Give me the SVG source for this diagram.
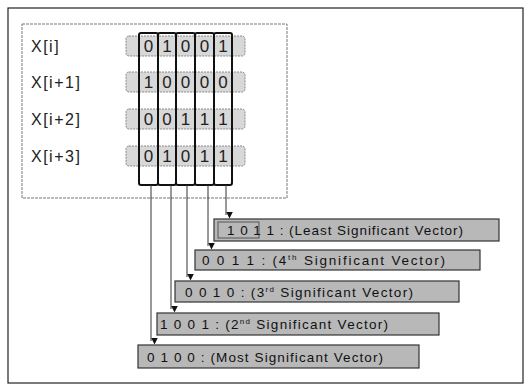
<svg xmlns="http://www.w3.org/2000/svg" width="528" height="384" viewBox="0 0 528 384">
<defs>
<style>
.lbl{font-family:"Liberation Sans",Arial,sans-serif;font-size:16px;fill:#222;letter-spacing:1.5px}
.dig{font-family:"Liberation Sans",Arial,sans-serif;font-size:17px;fill:#222;text-anchor:middle}
.row{fill:#d8d8d8;stroke:#8a8a8a;stroke-width:1;stroke-dasharray:2 1}
.col{fill:none;stroke:#111;stroke-width:2}
.vec{fill:#b8b8b8;stroke:#333;stroke-width:1.2}
.vt{font-family:"Liberation Sans",Arial,sans-serif;font-size:13.5px;fill:#111}
.sup{font-size:8px}
.conn line{stroke:#333;stroke-width:1;marker-end:url(#ah)}
</style>
<marker id="ah" viewBox="0 0 8 8" refX="4" refY="8" markerWidth="7" markerHeight="7" markerUnits="userSpaceOnUse" orient="auto-start-reverse">
<path d="M0,0 L8,0 L4,8 Z" fill="#111" transform="rotate(-90 4 4)"/>
</marker>
</defs>
<rect x="0" y="0" width="528" height="384" fill="#fff"/>
<rect id="frame" x="8" y="8" width="515" height="375" fill="none" stroke="#222" stroke-width="1.2"/>
<g id="input-box">
<rect x="22" y="24" width="265" height="174" fill="none" stroke="#777" stroke-width="1" stroke-dasharray="3 1"/>
</g>
<g id="row-0">
<rect class="row" x="126" y="36" width="119" height="20" rx="3"/>
<text class="lbl" x="31" y="52">X[i]</text>
</g>
<g id="row-1">
<rect class="row" x="126" y="72" width="119" height="20" rx="3"/>
<text class="lbl" x="31" y="88">X[i+1]</text>
</g>
<g id="row-2">
<rect class="row" x="126" y="109" width="119" height="20" rx="3"/>
<text class="lbl" x="31" y="125">X[i+2]</text>
</g>
<g id="row-3">
<rect class="row" x="126" y="146" width="119" height="20" rx="3"/>
<text class="lbl" x="31" y="162">X[i+3]</text>
</g>
<g id="columns">
<rect class="col" x="139" y="33" width="19" height="152" rx="2"/>
<rect class="col" x="158" y="33" width="18" height="152" rx="2"/>
<rect class="col" x="176" y="33" width="19" height="152" rx="2"/>
<rect class="col" x="195" y="33" width="19" height="152" rx="2"/>
<rect class="col" x="214" y="33" width="18" height="152" rx="2"/>
</g>
<g id="digits">
<text class="dig" x="148.5" y="52">0</text><text class="dig" x="167" y="52">1</text><text class="dig" x="185.5" y="52">0</text><text class="dig" x="204.5" y="52">0</text><text class="dig" x="223" y="52">1</text>
<text class="dig" x="148.5" y="88">1</text><text class="dig" x="167" y="88">0</text><text class="dig" x="185.5" y="88">0</text><text class="dig" x="204.5" y="88">0</text><text class="dig" x="223" y="88">0</text>
<text class="dig" x="148.5" y="125">0</text><text class="dig" x="167" y="125">0</text><text class="dig" x="185.5" y="125">1</text><text class="dig" x="204.5" y="125">1</text><text class="dig" x="223" y="125">1</text>
<text class="dig" x="148.5" y="162">0</text><text class="dig" x="167" y="162">1</text><text class="dig" x="185.5" y="162">0</text><text class="dig" x="204.5" y="162">1</text><text class="dig" x="223" y="162">1</text>
</g>
<g id="connectors" class="conn">
<line x1="226" y1="185" x2="226" y2="215"/>
<line x1="208" y1="185" x2="208" y2="246"/>
<line x1="187" y1="185" x2="187" y2="277"/>
<line x1="171" y1="185" x2="171" y2="309"/>
<line x1="151" y1="185" x2="151" y2="341"/>
</g>
<g id="vec-least">
<rect class="vec" x="214" y="219" width="285" height="22"/>
<rect x="218" y="222" width="41" height="16" fill="none" stroke="#555" stroke-width="1"/>
<text class="vt" x="227" y="235" textLength="236" lengthAdjust="spacing">1 0 1 1 : (Least Significant Vector)</text>
</g>
<g id="vec-4th">
<rect class="vec" x="195" y="250" width="285" height="20"/>
<text class="vt" x="202" y="265" textLength="243" lengthAdjust="spacing">0 0 1 1 : (4<tspan class="sup" dy="-5">th</tspan><tspan dy="5"> Significant Vector)</tspan></text>
</g>
<g id="vec-3rd">
<rect class="vec" x="175" y="281" width="284" height="21"/>
<text class="vt" x="185" y="297" textLength="228" lengthAdjust="spacing">0 0 1 0 : (3<tspan class="sup" dy="-5">rd</tspan><tspan dy="5"> Significant Vector)</tspan></text>
</g>
<g id="vec-2nd">
<rect class="vec" x="157" y="313" width="282" height="22"/>
<text class="vt" x="160" y="329" textLength="228" lengthAdjust="spacing">1 0 0 1 : (2<tspan class="sup" dy="-5">nd</tspan><tspan dy="5"> Significant Vector)</tspan></text>
</g>
<g id="vec-most">
<rect class="vec" x="138" y="345" width="281" height="23"/>
<text class="vt" x="147" y="362" textLength="236" lengthAdjust="spacing">0 1 0 0 : (Most Significant Vector)</text>
</g>
</svg>
